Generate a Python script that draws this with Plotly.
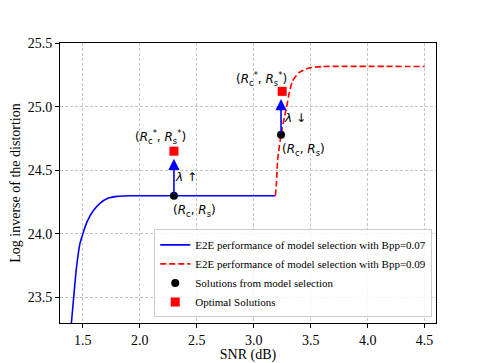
import plotly.graph_objects as go

# curves
snr_blue = [1.40, 1.42, 1.444, 1.474, 1.50, 1.54, 1.59, 1.65, 1.72, 1.80, 1.90, 2.30, 3.19]
dist_blue = [23.30, 23.50, 23.73, 23.92, 24.00, 24.10, 24.18, 24.24, 24.28, 24.295, 24.30, 24.30, 24.30]

snr_red = [3.19, 3.20, 3.21, 3.24, 3.27, 3.29, 3.31, 3.34, 3.40, 3.49, 3.60, 4.50]
dist_red = [24.30, 24.40, 24.58, 24.78, 24.92, 25.00, 25.10, 25.20, 25.27, 25.305, 25.315, 25.315]

sol_x = [2.30, 3.24]
sol_y = [24.30, 24.78]
opt_x = [2.30, 3.25]
opt_y = [24.65, 25.12]

xticks = [1.5, 2.0, 2.5, 3.0, 3.5, 4.0, 4.5]
yticks = [23.5, 24.0, 24.5, 25.0, 25.5]

serif = "Liberation Serif"
sans = "DejaVu Sans"

fig = go.Figure()
fig.add_trace(go.Scatter(x=snr_blue, y=dist_blue, mode="lines",
                         line=dict(color="blue", width=1.6, shape="spline", smoothing=0.5),
                         name="E2E performance of model selection with Bpp=0.07"))
fig.add_trace(go.Scatter(x=snr_red, y=dist_red, mode="lines",
                         line=dict(color="red", width=1.6, dash="6px,3px", shape="spline", smoothing=0.5),
                         name="E2E performance of model selection with Bpp=0.09"))
fig.add_trace(go.Scatter(x=sol_x, y=sol_y, mode="markers",
                         marker=dict(color="black", size=8, symbol="circle"),
                         name="Solutions from model selection"))
fig.add_trace(go.Scatter(x=opt_x, y=opt_y, mode="markers",
                         marker=dict(color="red", size=9, symbol="square"),
                         name="Optimal Solutions"))

# arrows from the selected solution towards the optimum
for i in range(2):
    fig.add_annotation(x=sol_x[i], y=opt_y[i] - 0.06, ax=sol_x[i], ay=sol_y[i],
                       xref="x", yref="y", axref="x", ayref="y", text="",
                       showarrow=True, arrowhead=2, arrowsize=1.4, arrowwidth=1.6,
                       arrowcolor="blue", standoff=0, startstandoff=0)

star = "(<i>R</i><sub>c</sub><sup>*</sup>, <i>R</i><sub>s</sub><sup>*</sup>)"
plain = "(<i>R</i><sub>c</sub>, <i>R</i><sub>s</sub>)"
labels = [
    (2.18, 24.76, star), (2.41, 24.45, "<i>λ</i> ↑"), (2.48, 24.18, plain),
    (3.07, 25.22, star), (3.36, 24.91, "<i>λ</i> ↓"), (3.44, 24.66, plain),
]
for lx, ly, txt in labels:
    fig.add_annotation(x=lx, y=ly, text=txt, showarrow=False,
                       font=dict(family=sans, size=12, color="black"))

axis_common = dict(showline=True, linecolor="black", linewidth=1, mirror=True,
                   ticks="outside", ticklen=4, tickcolor="black", automargin=False,
                   showgrid=True, gridcolor="#c4c4c4", griddash="3px,2px", gridwidth=0.8,
                   zeroline=False, tickfont=dict(family=serif, size=14, color="black"))

# page body adds an 8px margin, so the figure is sized to fit inside it
fig.update_layout(
    width=476, height=355,
    margin=dict(l=52, r=48, t=35, b=40),
    paper_bgcolor="white", plot_bgcolor="white",
    font=dict(family=serif, color="black"),
    xaxis=dict(range=[1.3, 4.6], tickvals=xticks, tickformat=".1f",
               title=dict(text="SNR (dB)", font=dict(family=serif, size=14), standoff=6),
               **axis_common),
    yaxis=dict(range=[23.3, 25.5], tickvals=yticks, tickformat=".1f",
               title=dict(text="Log inverse of the distortion", font=dict(family=serif, size=14), standoff=8),
               **axis_common),
    legend=dict(x=0.99, y=0.02, xanchor="right", yanchor="bottom",
                bgcolor="rgba(255,255,255,0.85)", bordercolor="#cccccc", borderwidth=1,
                font=dict(family=serif, size=11), tracegroupgap=0, itemwidth=30),
    showlegend=True,
)

fig.write_html("out.html")
